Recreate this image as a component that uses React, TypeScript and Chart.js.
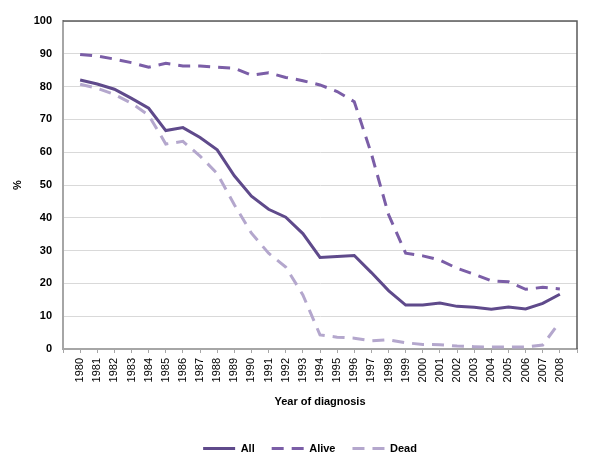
import React, { useEffect, useRef } from 'react';
import { Chart, registerables } from 'chart.js';

Chart.register(...registerables);

const years = [
  '1980', '1981', '1982', '1983', '1984', '1985', '1986', '1987', '1988', '1989',
  '1990', '1991', '1992', '1993', '1994', '1995', '1996', '1997', '1998', '1999',
  '2000', '2001', '2002', '2003', '2004', '2005', '2006', '2007', '2008',
];

const allValues = [
  82, 80.8, 79.2, 76.4, 73.4, 66.6, 67.5, 64.5, 60.7, 52.8,
  46.6, 42.6, 40.2, 35.2, 27.9, 28.2, 28.5, 23.3, 17.8, 13.4,
  13.4, 14, 13, 12.7, 12.1, 12.8, 12.2, 13.9, 16.7,
];

const aliveValues = [
  89.8, 89.3, 88.4, 87.3, 85.9, 87.1, 86.3, 86.3, 85.9, 85.6,
  83.5, 84.2, 82.8, 81.8, 80.5, 78.5, 75.4, 59.5, 41, 29.2,
  28.4, 27.1, 24.6, 22.8, 20.8, 20.5, 18.2, 18.8, 18.3,
];

const deadValues = [
  80.7, 79.5, 77.6, 74.9, 71.3, 62.5, 63.3, 58.8, 53.5, 44,
  35.3, 29.2, 25, 16.5, 4.3, 3.6, 3.3, 2.5, 2.8, 1.9,
  1.4, 1.3, 0.9, 0.7, 0.6, 0.6, 0.6, 1.2, 8.3,
];

const seriesNames = ['All', 'Alive', 'Dead'];

const yMin = 0;
const yMax = 100;
const yStep = 10;

const FONT = "'Liberation Sans', Arial, sans-serif";

export default function App() {
  const canvasRef = useRef<HTMLCanvasElement | null>(null);

  useEffect(() => {
    const canvas = canvasRef.current;
    if (!canvas) return;

    const labels = ['', ...years, ''];
    const pad = (arr: number[]) => [null, ...arr, null];

    const framePlugin = {
      id: 'frame',
      beforeDatasetsDraw(chart: any) {
        const { ctx, chartArea: a } = chart;
        ctx.save();
        ctx.strokeStyle = '#5a5a5a';
        ctx.lineWidth = 1.5;
        ctx.beginPath();
        ctx.moveTo(a.left, a.top);
        ctx.lineTo(a.right, a.top);
        ctx.lineTo(a.right, a.bottom);
        ctx.stroke();
        ctx.restore();
      },
    };

    const legendShift = {
      id: 'legendShift',
      afterLayout(chart: any) {
        const l = chart.legend;
        if (l) {
          l.left -= 10;
          l.right -= 10;
        }
      },
    };

    const defaultGen = (Chart.defaults.plugins.legend.labels as any).generateLabels;

    const chart = new Chart(canvas, {
      type: 'line',
      data: {
        labels,
        datasets: [
          {
            label: seriesNames[0],
            data: pad(allValues),
            borderColor: '#5f4a8b',
            backgroundColor: '#5f4a8b',
            borderWidth: 3,
            pointRadius: 0,
            tension: 0,
          },
          {
            label: seriesNames[1],
            data: pad(aliveValues),
            borderColor: '#7b5ea7',
            backgroundColor: '#7b5ea7',
            borderWidth: 3,
            borderDash: [12, 8],
            pointRadius: 0,
            tension: 0,
          },
          {
            label: seriesNames[2],
            data: pad(deadValues),
            borderColor: '#b4a7cd',
            backgroundColor: '#b4a7cd',
            borderWidth: 3,
            borderDash: [12, 8],
            pointRadius: 0,
            tension: 0,
          },
        ],
      },
      options: {
        responsive: false,
        animation: false,
        layout: { padding: { top: 21, right: 23, bottom: 10, left: 0 } },
        plugins: {
          tooltip: { enabled: false },
          legend: {
            position: 'bottom',
            fullSize: false,
            labels: {
              usePointStyle: true,
              pointStyle: 'line',
              pointStyleWidth: 32,
              padding: 17,
              color: '#000',
              font: { family: FONT, size: 11, weight: 'bold' },
              generateLabels(chart: any) {
                const items = defaultGen(chart);
                return items.map((it: any) => {
                  const ds = chart.data.datasets[it.datasetIndex];
                  return {
                    ...it,
                    lineDash: ds.borderDash || [],
                    lineWidth: ds.borderWidth,
                    strokeStyle: ds.borderColor,
                    fillStyle: ds.borderColor,
                    lineCap: 'butt',
                  };
                });
              },
            },
          },
        },
        scales: {
          x: {
            type: 'category',
            offset: false,
            afterFit(scale: any) {
              scale.height = 77;
            },
            grid: {
              drawOnChartArea: false,
              drawTicks: true,
              tickLength: 4,
              color: '#a6a6a6',
              offset: false,
            },
            border: { color: '#a6a6a6', width: 2 },
            ticks: {
              autoSkip: false,
              maxRotation: 90,
              minRotation: 90,
              padding: 5,
              color: '#000',
              font: { family: FONT, size: 11 },
            },
            title: {
              display: true,
              text: 'Year of diagnosis',
              color: '#000',
              font: { family: FONT, size: 11, weight: 'bold' },
              padding: { top: 0, bottom: 17 },
            },
          },
          y: {
            min: yMin,
            max: yMax,
            afterFit(scale: any) {
              scale.width = 63;
            },
            grid: {
              color: '#d9d9d9',
              lineWidth: 1,
              drawTicks: false,
            },
            border: { color: '#a6a6a6', width: 2 },
            ticks: {
              stepSize: yStep,
              padding: 11,
              color: '#000',
              font: { family: FONT, size: 11, weight: 'bold' },
            },
            title: {
              display: true,
              text: '%',
              color: '#000',
              font: { family: FONT, size: 11, weight: 'bold' },
              padding: { top: 11, bottom: 0 },
            },
          },
        },
      },
      plugins: [framePlugin, legendShift],
    } as any);

    return () => chart.destroy();
  }, []);

  return (
    <div style={{ position: 'fixed', left: 0, top: 0, width: 600, height: 474, background: '#fff' }}>
      <canvas ref={canvasRef} width={600} height={474} style={{ width: 600, height: 474, display: 'block' }} />
    </div>
  );
}
